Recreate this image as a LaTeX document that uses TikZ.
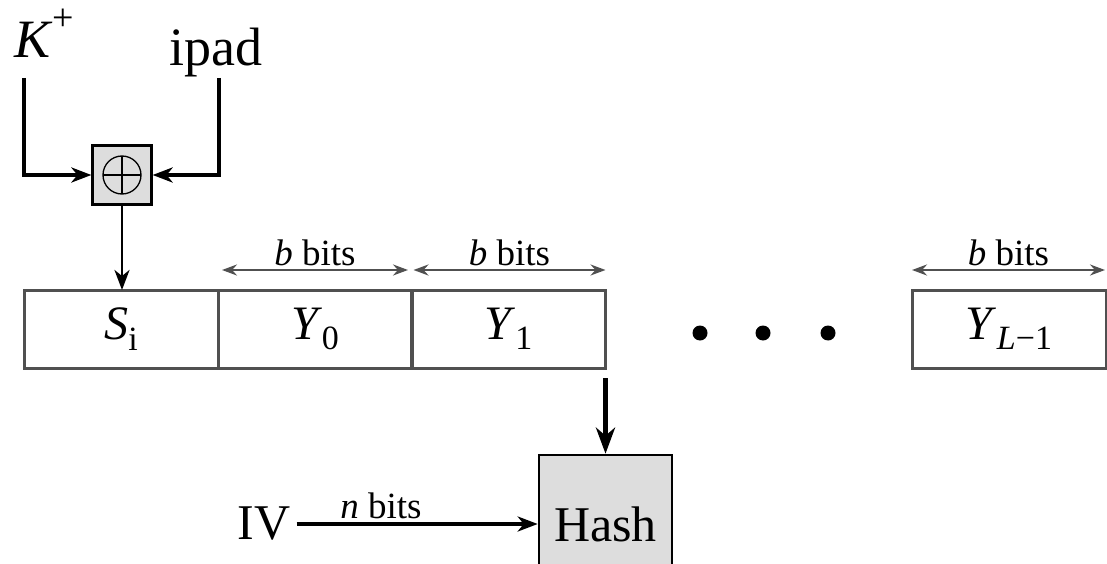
\documentclass[tikz,border=0pt]{standalone}
\usepackage{fontspec}
\setmainfont{Liberation Serif}
\usetikzlibrary{positioning,arrows.meta,calc}
\definecolor{boxGray}{RGB}{221,221,221}
\definecolor{edgeGray}{RGB}{80,80,80}
\newcommand{\lowsub}[1]{\raisebox{-0.22em}{\fontsize{34}{38}\selectfont #1}}
\tikzset{
	block/.style={
		draw=edgeGray,
		line width=3pt,
		minimum width=194pt,
		minimum height=78pt,
		inner sep=0pt,
		outer sep=0pt,
		font=\fontsize{48}{56}\selectfont,
	},
	hashbox/.style={
		draw,
		line width=2.6pt,
		fill=boxGray,
		minimum width=133pt,
		minimum height=138pt,
		inner sep=0pt,
		font=\fontsize{50}{58}\selectfont,
	},
	xorbox/.style={
		draw,
		line width=2.2pt,
		fill=boxGray,
		minimum size=59pt,
		inner sep=0pt,
	},
	flow/.style={
		-{Stealth[length=20pt,width=15pt,inset=6pt]},
		line width=3.6pt,
	},
	bigflow/.style={
		-{Stealth[length=26pt,width=19pt,inset=8pt]},
		line width=5pt,
	},
	dim/.style={
		{Stealth[length=15pt,width=11pt,inset=5pt]}-{Stealth[length=15pt,width=11pt,inset=5pt]},
		line width=2.4pt,
		draw=edgeGray,
	},
	biglabel/.style={font=\fontsize{54}{60}\selectfont, inner sep=0pt},
	bitslabel/.style={font=\fontsize{37}{42}\selectfont, inner sep=3pt},
}

\begin{document}
\begin{tikzpicture}[x=1pt,y=-1pt]
	\useasboundingbox (0,0) rectangle (1107,564);

	% --- Inputs and XOR ---
	\node[biglabel, anchor=base] (kplus) at (44,58) {\textit{K}\raisebox{0.5em}{\fontsize{38}{40}\selectfont +}};
	\node[biglabel, anchor=base] (ipad) at (216,66) {ipad};
	\coordinate (kdrop) at (24,78);
	\coordinate (ipdrop) at (219,78);
	\node[xorbox] (xor) at (122,175) {};
	\draw[line width=1.3pt] (xor) circle (19pt);
	\draw[line width=1.3pt] ($(xor)+(-19,0)$) -- ($(xor)+(19,0)$)
		($(xor)+(0,-19)$) -- ($(xor)+(0,19)$);

	% --- Block row ---
	\node[block] (si) at (121,329) {\textit{S}\lowsub{i}};
	\node[block] (y0) at (315,329) {\textit{Y}\lowsub{0}};
	\node[block] (y1) at (508.5,329) {\textit{Y}\lowsub{1}};
	\node[block] (yl) at (1009,329) {\textit{Y}\lowsub{\textit{L}−1}};
	\foreach \x in {700,763,828}
		\fill (\x,333) circle (7.5pt);

	% --- b bits markers ---
	\draw[dim] ($(y0.north west)+(4,-20)$) -- node[bitslabel, above] {\textit{b} bits} ($(y0.north east)+(-4,-20)$);
	\draw[dim] ($(y1.north west)+(2,-20)$) -- node[bitslabel, above] {\textit{b} bits} ($(y1.north east)+(0,-20)$);
	\draw[dim] ($(yl.north west)+(0,-20)$) -- node[bitslabel, above] {\textit{b} bits} ($(yl.north east)+(-1,-20)$);

	% --- Hash stage ---
	\node[hashbox] (hash) at (605.5,524) {Hash};
	\node[biglabel, font=\fontsize{50}{58}\selectfont] (iv) at (264,524) {IV};

	% --- Flows ---
	\draw[flow] (kdrop) |- (xor.west);
	\draw[flow] (ipdrop) |- (xor.east);
	\draw[flow, line width=2.8pt] (xor.south) -- (xor.south |- si.north);
	\draw[bigflow] ([yshift=-10pt]y1.south east) -- (hash.north);
	\draw[flow] ([xshift=6pt]iv.east) -- node[bitslabel, above, pos=0.35] {\textit{n} bits} (hash.west);
\end{tikzpicture}
\end{document}
